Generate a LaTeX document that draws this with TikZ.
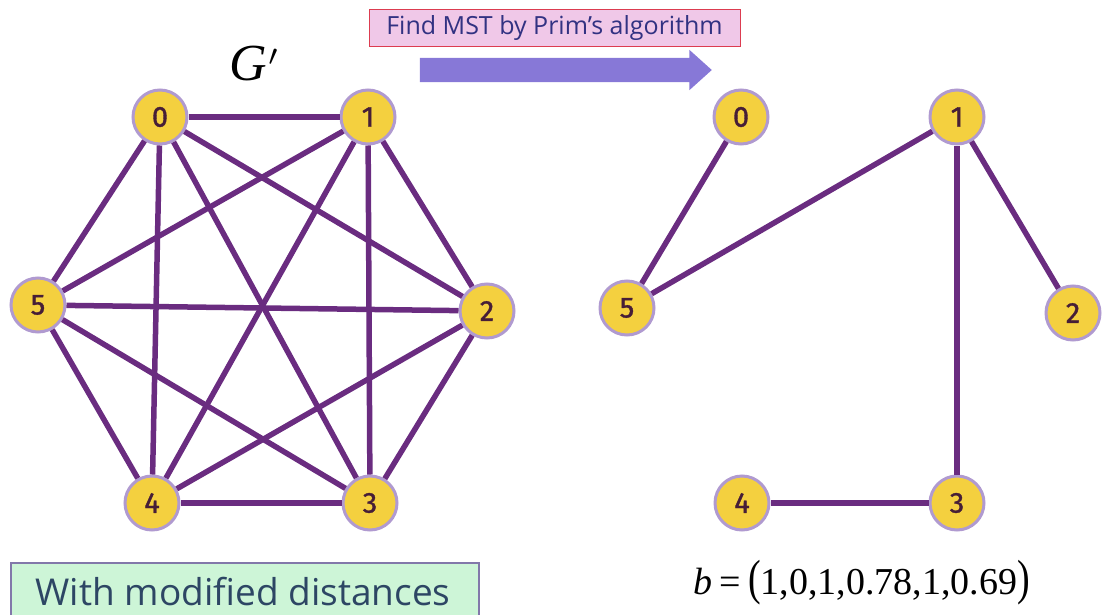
\documentclass[tikz,border=0pt]{standalone}
\usepackage{fontspec}
\newfontfamily\labelfont{Open Sans}
\newfontfamily\numfont{Fira Sans}[FakeBold=1.2]
\newfontfamily\serfont{Liberation Serif}
\usetikzlibrary{shapes.arrows}
\definecolor{edgepurple}{RGB}{106,44,128}
\definecolor{nodefill}{RGB}{244,208,63}
\definecolor{nodering}{RGB}{176,154,208}
\definecolor{numcol}{RGB}{70,30,55}
\definecolor{pinkfill}{RGB}{240,200,232}
\definecolor{redline}{RGB}{220,60,80}
\definecolor{titletext}{RGB}{50,50,130}
\definecolor{arrowfill}{RGB}{135,120,215}
\definecolor{greenfill}{RGB}{205,245,215}
\definecolor{greenline}{RGB}{130,120,170}
\definecolor{slatetext}{RGB}{45,70,100}
\tikzset{
  vtx/.style={circle, fill=nodefill, draw=nodering, line width=3pt, minimum size=54pt, inner sep=0pt,
    font=\numfont\fontsize{29}{31}\selectfont, text=numcol},
  edg/.style={draw=edgepurple, line width=5.5pt}
}
\begin{document}
\begin{tikzpicture}[x=1pt,y=-1pt]
\useasboundingbox (0,0) rectangle (1102,615);
\clip (0,0) rectangle (1102,615);
% title box
\node[fill=pinkfill, draw=redline, line width=1pt, minimum width=371pt, minimum height=37pt, inner sep=0pt,
  font=\labelfont\fontsize{25}{27}\selectfont, text=titletext] (title) at (554.5,28.5) {Find MST by Prim’s algorithm};
% big arrow
\node[single arrow, fill=arrowfill, draw=none, minimum height=292pt, minimum width=0pt,
  single arrow head extend=8pt, single arrow tip angle=84, inner sep=0pt] (arr) at (559,70) {\rule{0pt}{24pt}};
% G'
\node[inner sep=0pt] (gp) at (255,64) {{\serfont\itshape\fontsize{52}{56}\selectfont G}\kern1pt\scalebox{4.2}{$^{\prime}$}};
% left graph
\node[vtx] (a0) at (160,117) {0};
\node[vtx] (a1) at (368,117) {1};
\node[vtx] (a2) at (487,311) {2};
\node[vtx] (a3) at (370,503) {3};
\node[vtx] (a4) at (152,503) {4};
\node[vtx] (a5) at (38,305) {5};
\foreach \u/\v in {a0/a1,a1/a2,a2/a3,a3/a4,a4/a5,a5/a0,a0/a2,a0/a3,a0/a4,a1/a3,a1/a4,a1/a5,a2/a4,a2/a5,a3/a5}
  \draw[edg] (\u) -- (\v);
% right graph
\node[vtx] (b0) at (741,117) {0};
\node[vtx] (b1) at (957,117) {1};
\node[vtx] (b2) at (1073,313) {2};
\node[vtx] (b3) at (957,503) {3};
\node[vtx] (b4) at (742,503) {4};
\node[vtx] (b5) at (627,308) {5};
\foreach \u/\v in {b0/b5,b5/b1,b1/b2,b1/b3,b3/b4}
  \draw[edg] (\u) -- (\v);
% bottom box
\node[fill=greenfill, draw=greenline, line width=2pt, minimum width=468pt, minimum height=70pt, inner sep=0pt,
  anchor=north west] (note) at (10,562) {};
\node[font=\labelfont\fontsize{37}{40}\selectfont, text=slatetext] (notetext) at (243,592) {With modified distances};
% formula
\node[font=\serfont\fontsize{38}{42}\selectfont] (bvec) at (862,583)
  {\textit{b}\kern7pt=\kern7pt\scalebox{1}[1.3]{(}1,0,1,0.78,1,0.69\scalebox{1}[1.3]{)}};
\end{tikzpicture}
\end{document}
